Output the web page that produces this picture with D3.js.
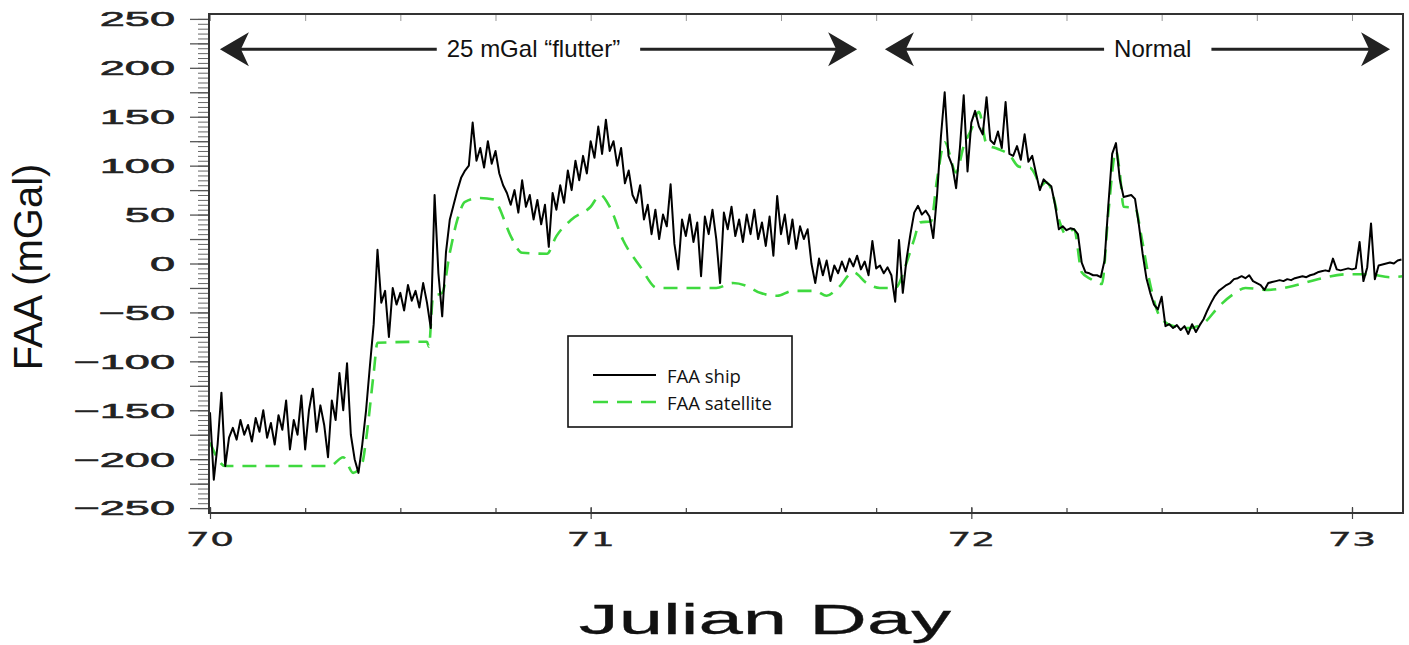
<!DOCTYPE html>
<meta charset="utf-8">
<html>
<body style="margin:0;background:#fff">
<svg id="chart" width="1409" height="645"></svg>
<script src="https://d3js.org/d3.v7.min.js"></script>
<script>
  // ship gravity, sampled every 0.01 day from day 70
  var shipStart = 70, shipStep = 0.01;
  var shipValues = [
    -152,-221,-185,-132,-207,-178,-168,-180,-160,-175,
    -165,-182,-158,-172,-150,-178,-163,-185,-155,-170,
    -140,-190,-160,-175,-135,-190,-150,-128,-172,-145,
    -165,-198,-140,-160,-112,-150,-102,-175,-200,-214,
    -185,-150,-105,-62,14,-40,-28,-75,-25,-42,
    -30,-48,-22,-38,-28,-45,-20,-40,-66,70,
    -10,-54,12,45,60,75,88,95,100,144,
    105,118,98,125,102,115,92,80,72,60,
    75,52,85,58,70,45,65,40,60,17,
    72,55,80,62,95,75,105,85,110,92,
    125,108,140,112,147,115,125,100,118,82,
    95,70,62,80,45,60,30,55,25,50,
    38,81,20,-6,45,28,50,22,42,-13,
    48,30,55,25,-20,52,35,58,28,45,
    22,50,30,55,25,42,18,48,8,69,
    30,50,20,45,15,38,25,35,0,-20,
    5,-12,3,-18,-2,-10,2,-8,5,-3,
    8,-6,2,-12,23,-5,-2,-10,-4,-12,
    -39,24,-30,5,30,52,59,50,54,48,
    26,70,129,175,110,100,77,118,172,94,
    144,156,140,132,170,126,122,135,118,165,
    112,110,120,106,132,104,110,92,75,86,
    82,79,60,35,38,34,36,35,30,1,
    -9,-10,-12,-12,-14,3,60,112,123,86,
    68,69,70,66,40,10,-15,-30,-42,-47,
    -34,-64,-62,-66,-63,-68,-64,-72,-62,-70,
    -63,-57,-48,-40,-33,-28,-25,-22,-20,-16,
    -15,-13,-15,-12,-18,-20,-22,-27,-20,-19,
    -18,-17,-18,-16,-17,-15,-14,-13,-14,-12,
    -11,-9,-8,-7,-8,5,-6,-7,-6,-5,
    -6,-5,22,-18,-4,41,-16,-2,-1,0,
    1,0,3,4
  ];

  var satDays = [70.00,70.04,70.315,70.35,70.376,70.40,70.41,70.43,70.44,70.57,
    70.575,70.586,70.61,70.63,70.65,70.67,70.71,70.75,70.76,70.79,
    70.82,70.885,70.91,70.95,71.00,71.025,71.05,71.085,71.13,71.175,
    71.33,71.374,71.41,71.445,71.49,71.53,71.59,71.62,71.65,71.69,
    71.725,71.76,71.80,71.83,71.85,71.865,71.894,71.91,71.93,71.96,
    71.98,72.00,72.02,72.04,72.07,72.10,72.125,72.154,72.17,72.18,
    72.196,72.21,72.23,72.248,72.27,72.29,72.314,72.343,72.36,72.38,
    72.39,72.40,72.43,72.448,72.467,72.495,72.53,72.57,72.61,72.65,
    72.686,72.72,72.78,72.845,72.91,72.987,73.044,73.10,73.134];
  var satValues = [-183,-207,-207,-198,-214,-204,-180,-112,-81,-80,
    -85,-34,-30,11,45,63,67,65,57,28,
    11,10,28,45,58,70,58,24,-3,-25,
    -25,-20,-23,-30,-33,-28,-28,-33,-25,-9,
    -20,-25,-25,1,25,42,43,86,124,93,
    120,137,155,122,117,111,99,98,89,79,
    83,76,45,30,35,-9,-16,-21,52,115,
    93,58,57,25,-16,-54,-64,-66,-61,-44,
    -32,-25,-27,-23,-16,-11,-11,-14,-13];

  var yLabels = [-250,-200,-150,-100,-50,0,50,100,150,200,250];
  var xLabels = [70,71,72,73];
  var seriesNames = ["FAA ship", "FAA satellite"];

  // annotation arrows: tip days, text start day, level in mGal
  var spans = [
    {label: "25 mGal \u201cflutter\u201d", from: 70.026, to: 71.700, textAt: 70.622, level: 219},
    {label: "Normal", from: 71.773, to: 73.100, textAt: 72.375, level: 219}
  ];

  var svg = d3.select("#chart");
  var x = d3.scaleLinear().domain([70, 73.134]).range([210, 1403]);
  var y = d3.scaleLinear().domain([-255, 255]).range([513, 14]);

  var shipData = shipValues.map(function (v, i) { return [shipStart + i * shipStep, v]; });
  var satData = satDays.map(function (d, i) { return [d, satValues[i]]; });

  // y ticks (outside, left)
  svg.append("g").attr("transform", "translate(209,0)")
    .call(d3.axisLeft(y).tickValues(d3.range(-250, 251, 5)).tickSize(11).tickFormat(""))
    .call(function (g) { g.select(".domain").remove(); g.selectAll("line").attr("stroke", "#666").attr("stroke-width", 1); });
  svg.append("g").attr("transform", "translate(209,0)")
    .call(d3.axisLeft(y).tickValues(d3.range(-250, 251, 25)).tickSize(19).tickFormat(""))
    .call(function (g) { g.select(".domain").remove(); g.selectAll("line").attr("stroke", "#555").attr("stroke-width", 1.3); });

  // x ticks: quarter days inside, whole days crossing
  var quarters = d3.range(70, 73.2, 0.25).filter(function (d) { return d <= 73.134; });
  svg.append("g").attr("transform", "translate(0,513)")
    .call(d3.axisBottom(x).tickValues(quarters).tickSizeInner(-5).tickSizeOuter(0).tickFormat(""))
    .call(function (g) { g.select(".domain").remove(); g.selectAll("line").attr("stroke", "#444").attr("stroke-width", 1.2); });
  svg.append("g").attr("transform", "translate(0,519)")
    .call(d3.axisBottom(x).tickValues(xLabels).tickSizeInner(-12).tickSizeOuter(0).tickFormat(""))
    .call(function (g) { g.select(".domain").remove(); g.selectAll("line").attr("stroke", "#444").attr("stroke-width", 1.2); });
  svg.append("g").attr("transform", "translate(0,14)")
    .call(d3.axisTop(x).tickValues(quarters).tickSizeInner(-7).tickSizeOuter(0).tickFormat(""))
    .call(function (g) { g.select(".domain").remove(); g.selectAll("line").attr("stroke", "#999").attr("stroke-width", 1); });

  // tick labels (stretched wide like the original)
  yLabels.forEach(function (v) {
    svg.append("g").attr("transform", "translate(175," + y(v) + ")")
      .append("text").attr("transform", "scale(2.2,1)")
      .attr("text-anchor", "end").attr("dy", "0.36em")
      .style("font-family", "Liberation Sans, Arial, sans-serif").style("font-size", "20.5px")
      .attr("fill", "#222").attr("stroke", "#222").attr("stroke-width", 0.55)
      .text(v < 0 ? "\u2212" + Math.abs(v) : v);
  });
  xLabels.forEach(function (d) {
    svg.append("g").attr("transform", "translate(" + x(d) + ",546)")
      .append("text").attr("transform", "scale(2.0,1)")
      .attr("text-anchor", "middle")
      .style("font-family", "DejaVu Sans, sans-serif").style("font-size", "19px")
      .attr("fill", "#222").attr("stroke", "#222").attr("stroke-width", 0.3)
      .text(d);
  });

  // axis titles
  svg.append("g").attr("transform", "translate(765,634)")
    .append("text").attr("transform", "scale(1.9,1)").attr("text-anchor", "middle")
    .style("font-family", "Liberation Sans, Arial, sans-serif").style("font-size", "42px")
    .attr("fill", "#111").attr("stroke", "#111").attr("stroke-width", 0.3).text("Julian Day");
  svg.append("text").attr("transform", "translate(42,267) rotate(-90)").attr("text-anchor", "middle")
    .style("font-family", "Liberation Sans, Arial, sans-serif").style("font-size", "40px")
    .attr("fill", "#111").text("FAA (mGal)");

  // data lines
  var line = d3.line().x(function (d) { return x(d[0]); }).y(function (d) { return y(d[1]); });
  svg.append("path").datum(satData)
    .attr("d", line.curve(d3.curveMonotoneX))
    .attr("fill", "none").attr("stroke", "#3fd93f").attr("stroke-width", 2.6)
    .attr("stroke-dasharray", "14,9");
  svg.append("path").datum(shipData)
    .attr("d", d3.line().x(function (d) { return x(d[0]); }).y(function (d) { return y(d[1]); }))
    .attr("fill", "none").attr("stroke", "#000").attr("stroke-width", 2)
    .attr("stroke-linejoin", "round");

  // frame
  svg.append("rect").attr("x", 209).attr("y", 14).attr("width", 1403 - 209).attr("height", 513 - 14)
    .attr("fill", "none").attr("stroke", "#333").attr("stroke-width", 2);

  // arrows with labels
  function head(tipX, tipY, dir) {
    // dir = -1 points left, +1 points right
    var b = -dir * 29, n = -dir * 21;
    return "M" + tipX + "," + tipY + "L" + (tipX + b) + "," + (tipY - 17) + "L" + (tipX + n) + "," + tipY +
      "L" + (tipX + b) + "," + (tipY + 17) + "Z";
  }
  spans.forEach(function (s) {
    var yy = y(s.level), x0 = x(s.from), x1 = x(s.to), tx = x(s.textAt);
    var t = svg.append("text").attr("x", tx).attr("y", yy + 8)
      .style("font-family", "Liberation Sans, Arial, sans-serif").style("font-size", "24px")
      .attr("fill", "#111").text(s.label);
    var w = t.node().getComputedTextLength();
    svg.append("line").attr("x1", x0 + 20).attr("x2", tx - 10).attr("y1", yy).attr("y2", yy)
      .attr("stroke", "#222").attr("stroke-width", 3);
    svg.append("line").attr("x1", tx + w + 20).attr("x2", x1 - 20).attr("y1", yy).attr("y2", yy)
      .attr("stroke", "#222").attr("stroke-width", 3);
    svg.append("path").attr("d", head(x0, yy, -1)).attr("fill", "#222");
    svg.append("path").attr("d", head(x1, yy, 1)).attr("fill", "#222");
  });

  // legend
  var lg = svg.append("g").attr("transform", "translate(568,336)");
  lg.append("rect").attr("width", 224).attr("height", 91).attr("fill", "#fff")
    .attr("stroke", "#111").attr("stroke-width", 1.6);
  lg.append("line").attr("x1", 25).attr("x2", 88).attr("y1", 39).attr("y2", 39)
    .attr("stroke", "#000").attr("stroke-width", 1.8);
  lg.append("line").attr("x1", 25).attr("x2", 88).attr("y1", 66).attr("y2", 66)
    .attr("stroke", "#3fd93f").attr("stroke-width", 2.6).attr("stroke-dasharray", "15,9");
  lg.selectAll("text.lab").data(seriesNames).enter().append("text").attr("class", "lab")
    .attr("x", 99).attr("y", function (d, i) { return 47 + i * 27; })
    .style("font-family", "Open Sans, sans-serif").style("font-size", "18.5px")
    .attr("fill", "#111").text(function (d) { return d; });
</script>
</body>
</html>
